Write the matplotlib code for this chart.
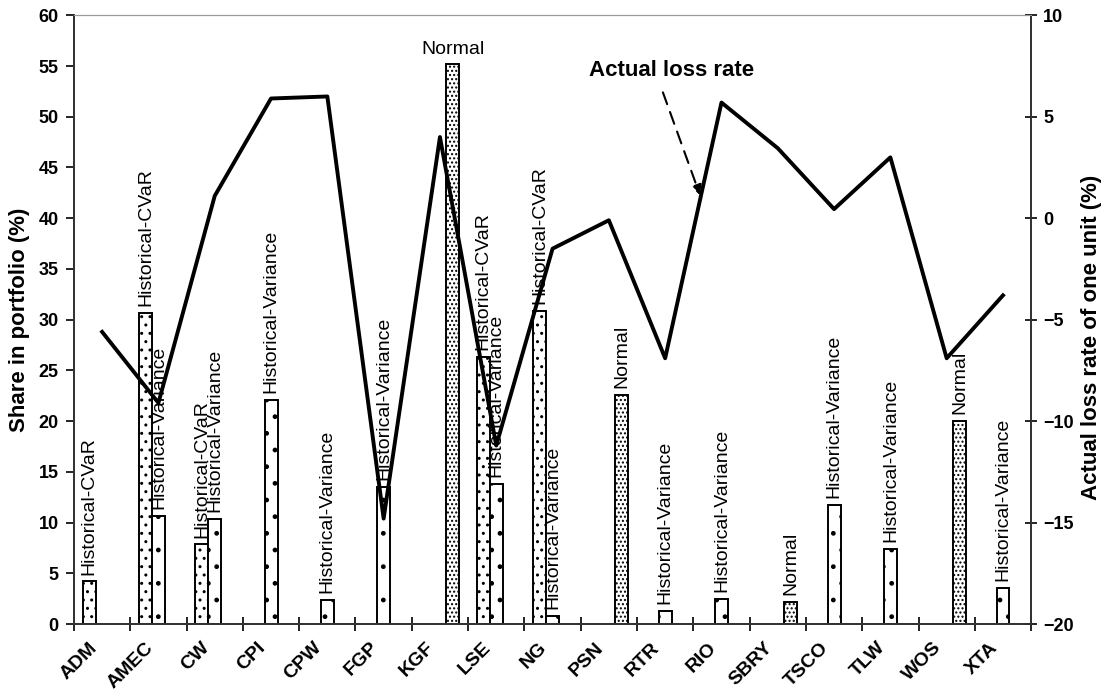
import numpy as np
import matplotlib
matplotlib.use("Agg")
import matplotlib.pyplot as plt
from matplotlib.transforms import ScaledTranslation

plt.rcParams['font.family'] = ['Liberation Sans', 'DejaVu Sans']
plt.rcParams['hatch.linewidth'] = 1.0

# data
stocks = ['ADM', 'AMEC', 'CW', 'CPI', 'CPW', 'FGP', 'KGF', 'LSE', 'NG',
          'PSN', 'RTR', 'RIO', 'SBRY', 'TSCO', 'TLW', 'WOS', 'XTA']
hist_cvar = [4.2, 30.7, 7.85, 0, 0, 0, 0, 26.3, 30.9, 0, 0, 0, 0, 0, 0, 0, 0]
hist_var = [0, 10.7, 10.4, 22.1, 2.35, 13.5, 0, 13.85, 0.8, 0, 1.3, 2.5, 0, 11.7, 7.45, 0, 3.6]
normal = [0, 0, 0, 0, 0, 0, 55.2, 0, 0, 22.6, 0, 0, 2.2, 0, 0, 20.0, 0]
loss_rate = [-5.6, -9.1, 1.1, 5.9, 6.0, -14.8, 4.0, -11.2, -1.5, -0.1,
             -6.9, 5.7, 3.45, 0.45, 3.0, -6.9, -3.8]

series = [('Historical-CVaR', hist_cvar, '..'),
          ('Historical-Variance', hist_var, '.'),
          ('Normal', normal, '....')]

fig = plt.figure(figsize=(11.04, 6.95), dpi=100)
ax = fig.add_axes([0.067, 0.102, 0.867, 0.876])
ax2 = ax.twinx()

x = np.arange(len(stocks))
w = 0.23
for i, (name, vals, hatch) in enumerate(series):
    off = (i - 1) * w
    for xi, v in zip(x, vals):
        if v <= 0:
            continue
        ax.bar(xi + off, v, w, color='white', edgecolor='black',
               linewidth=1.4, hatch=hatch, zorder=2)
        if v > 50:
            ax.annotate(name, (xi + off, v), xytext=(0, 4),
                        textcoords='offset points', ha='center', va='bottom',
                        fontsize=14)
        else:
            ax.annotate(name, (xi + off, v), xytext=(0, 5),
                        textcoords='offset points', ha='center', va='bottom',
                        rotation=90, fontsize=14)

ax2.plot(x, loss_rate, color='black', lw=2.8, zorder=5)

ax.set_xlim(-0.5, len(stocks) - 0.5)
ax.set_ylim(0, 60)
ax.set_yticks(range(0, 61, 5))
ax2.set_ylim(-20, 10)
ax2.set_yticks(range(-20, 11, 5))

# category names, rotated, set just left of each category centre
ax.set_xticks(np.arange(-0.5, len(stocks)))
ax.set_xticklabels([])
lab_tr = ax.get_xaxis_transform() + ScaledTranslation(-0.14, -0.15, fig.dpi_scale_trans)
for xi, name in zip(x, stocks):
    ax.text(xi, 0, name, transform=lab_tr, rotation=45, ha='right', va='top',
            rotation_mode='anchor', fontsize=14, fontweight='bold')

ax.tick_params(axis='x', direction='inout', length=10, width=1.2)
ax.tick_params(axis='y', direction='out', length=6, width=1.2, pad=5)
ax2.tick_params(axis='y', direction='inout', length=9, width=1.2, pad=4)
for lab in ax.get_yticklabels() + ax2.get_yticklabels():
    lab.set_fontsize(13)
    lab.set_fontweight('bold')

for a in (ax, ax2):
    a.spines['top'].set_color('#999999')
    a.spines['left'].set_color('#333333')
    a.spines['right'].set_color('#333333')
    a.spines['bottom'].set_color('#333333')
    for s in ('left', 'right', 'bottom'):
        a.spines[s].set_linewidth(1.3)

fig.text(20 / 1104, 1 - 320 / 695, 'Share in portfolio (%)', fontsize=16,
         fontweight='bold', rotation=90, ha='center', va='center')
fig.text(1092 / 1104, 1 - 337 / 695, 'Actual loss rate of one unit (%)',
         fontsize=16, fontweight='bold', rotation=90, ha='center', va='center')

ax2.annotate('', xy=(10.62, 1.13), xytext=(9.96, 6.2),
             arrowprops=dict(arrowstyle='-|>,head_length=0.6,head_width=0.3',
                             linestyle=(0, (6, 4)), color='black', lw=1.5,
                             shrinkA=0, shrinkB=0))
ax2.text(10.12, 7.3, 'Actual loss rate', fontsize=16, fontweight='bold',
         ha='center', va='center')

fig.savefig('out.png', dpi=100)
